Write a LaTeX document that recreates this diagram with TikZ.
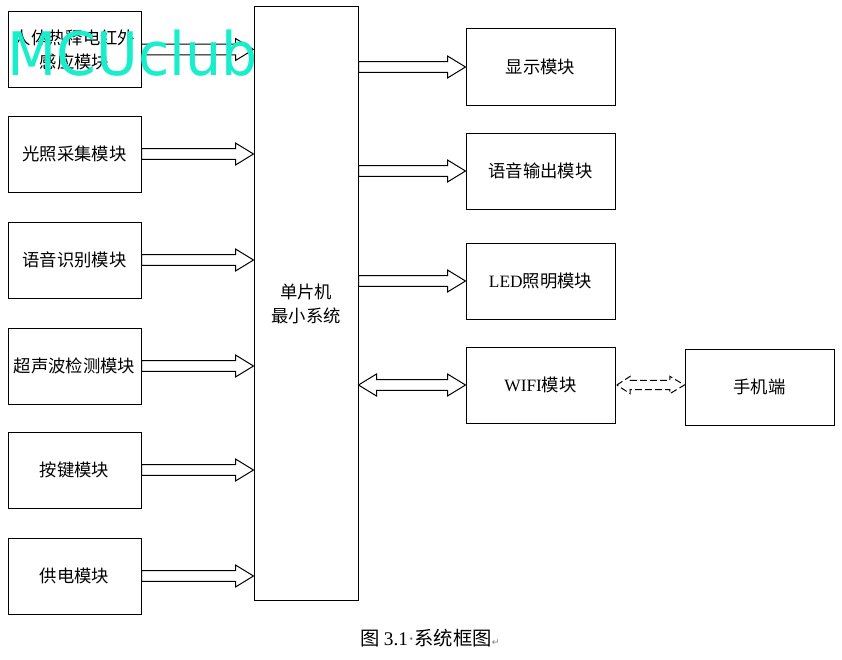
\documentclass[tikz,border=0pt]{standalone}
\usepackage{fontspec}
\setmainfont{Liberation Serif}
\newfontfamily\cjk{Noto Sans CJK SC}
\newfontfamily\symfont{DejaVu Sans}
\usetikzlibrary{calc}
\definecolor{watermark}{RGB}{24,238,204}
\tikzstyle{module}=[draw,line width=0.75pt,minimum width=99.75pt,minimum height=57pt,inner sep=2pt,align=center,font=\cjk\fontsize{13}{18}\selectfont]
\tikzstyle{outmodule}=[module,minimum width=111.75pt]
\tikzstyle{mcu}=[module,minimum width=78pt,minimum height=444.75pt]
\tikzstyle{hollow edge}=[draw,line width=0.75pt,fill=white,to path={let \p1=(\tikztostart),\p2=(\tikztotarget) in (\x1,\y1+4.1pt) -- (\x2-13.5pt,\y1+4.1pt) -- (\x2-13.5pt,\y1+8.25pt) -- (\x2,\y1) -- (\x2-13.5pt,\y1-8.25pt) -- (\x2-13.5pt,\y1-4.1pt) -- (\x1,\y1-4.1pt) -- cycle}]
\tikzstyle{both edge}=[draw,line width=0.75pt,fill=white,to path={let \p1=(\tikztostart),\p2=(\tikztotarget) in (\x1,\y1) -- (\x1+13.5pt,\y1+8.25pt) -- (\x1+13.5pt,\y1+4.1pt) -- (\x2-13.5pt,\y1+4.1pt) -- (\x2-13.5pt,\y1+8.25pt) -- (\x2,\y1) -- (\x2-13.5pt,\y1-8.25pt) -- (\x2-13.5pt,\y1-4.1pt) -- (\x1+13.5pt,\y1-4.1pt) -- (\x1+13.5pt,\y1-8.25pt) -- cycle}]
\tikzstyle{wireless edge}=[draw,line width=0.75pt,dashed,dash pattern=on 5pt off 2.5pt,to path={let \p1=(\tikztostart),\p2=(\tikztotarget) in (\x1+1pt,\y1) -- (\x1+11pt,\y1+6.5pt) -- (\x1+11pt,\y1+3.4pt) -- (\x2-11pt,\y1+3.4pt) -- (\x2-11pt,\y1+6.5pt) -- (\x2,\y1) -- (\x2-11pt,\y1-6.5pt) -- (\x2-11pt,\y1-3.4pt) -- (\x1+11pt,\y1-3.4pt) -- (\x1+11pt,\y1-6.5pt) -- cycle}]

\begin{document}
\begin{tikzpicture}[x=0.75pt,y=-0.75pt]
    \useasboundingbox (0,0) rectangle (842,660);

    % inputs
    \foreach \pos/\name/\lbl in {{(74.5,49.5)/pir/人体热释电红外\\感应模块}, {(74.5,154)/light/光照采集模块}, {(74.5,260)/voice/语音识别模块}, {(74.5,366)/sonic/超声波检测模块}, {(74.5,470)/key/按键模块}, {(74.5,576)/power/供电模块}}
        \node[module] (\name) at \pos {\lbl};

    \node[mcu] (mcu) at (306,303.5) {单片机\\最小系统};

    % outputs
    \foreach \pos/\name/\lbl in {{(540.5,67)/display/显示模块}, {(540.5,171)/speech/语音输出模块}, {(540.5,281)/led/{\rmfamily LED}照明模块}, {(540.5,385)/wifi/{\rmfamily WIFI}模块}}
        \node[outmodule] (\name) at \pos {\lbl};

    \node[outmodule] (phone) at (759.5,387) {手机端};

    \foreach \source in {pir, light, voice, sonic, key, power}
        \path[hollow edge] (\source.east) to (mcu.west |- \source.east);

    \foreach \dest in {display, speech, led}
        \path[hollow edge] (mcu.east |- \dest.west) to (\dest.west);

    \path[both edge] (mcu.east |- wifi.west) to (wifi.west);
    \path[wireless edge] (wifi.east) to (phone.west |- wifi.east);

    \node[font=\cjk\fontsize{14.5}{17}\selectfont] (caption) at (430,638) {图 {\rmfamily 3.1{\color{black!60}·}}系统框图{\symfont\color{black!50}\fontsize{7}{7}\selectfont ↵}};

    % watermark
    \node[text=watermark,font=\symfont\fontsize{45}{45}\selectfont,xscale=0.95,transform shape] (mark) at (132.5,53) {MCUclub};
\end{tikzpicture}
\end{document}
